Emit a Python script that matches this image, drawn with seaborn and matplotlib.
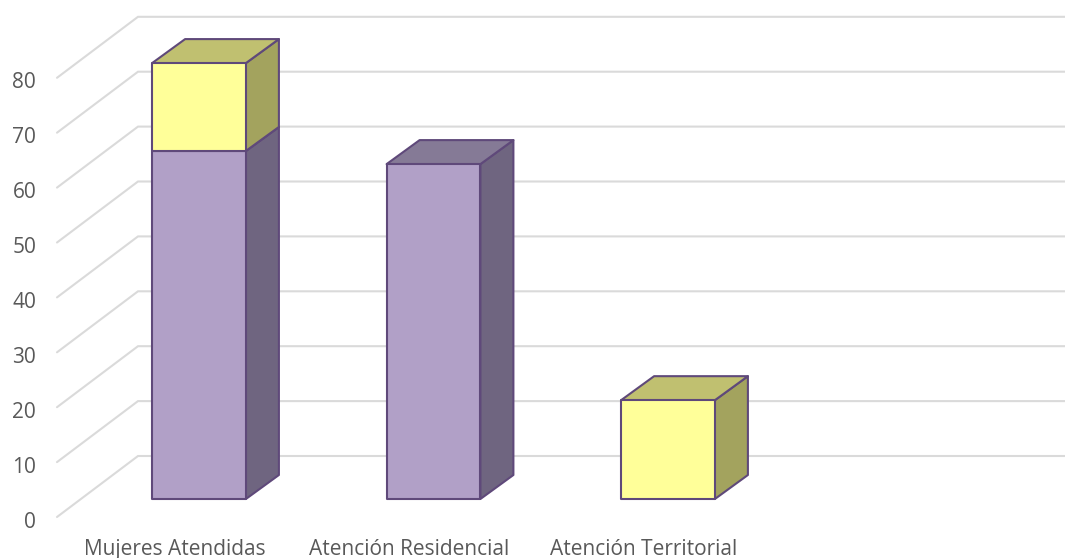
import matplotlib
matplotlib.use("Agg")
import matplotlib.pyplot as plt
from matplotlib.patches import Polygon
from matplotlib.transforms import Affine2D
import numpy as np
import pandas as pd
import seaborn as sns

categories = ["Mujeres Atendidas", "Atención Residencial", "Atención Territorial"]
purple_values = [63.4, 61.0, np.nan]
yellow_values = [16.0, np.nan, 18.0]
y_ticks = [0, 10, 20, 30, 40, 50, 60, 70, 80]

W, H = 1065, 558
PX_X = 234.5      # pixels per category
PX_Y = 5.49       # pixels per unit
LEFT, BOTTOM = 57, 517
CAT0 = 175

sns.set_theme(style="white")
plt.rcParams["font.family"] = ["Open Sans", "DejaVu Sans"]

fig = plt.figure(figsize=(W / 100, H / 100), dpi=100)
ax = fig.add_axes([LEFT / W, (H - BOTTOM) / H, (W - LEFT) / W, BOTTOM / H])

base = np.nan_to_num(purple_values)
df = pd.DataFrame({"cat": categories, "purple": purple_values, "yellow": yellow_values})

EDGE = "#5F497A"
LW = 1.5
FRONT_DX, FRONT_DY = 24 / PX_X, 18 / PX_Y
DEPTH_DX, DEPTH_DY = 33 / PX_X, 24 / PX_Y
BACK_DX, BACK_DY = 81 / PX_X, 61 / PX_Y
shift = Affine2D().translate(FRONT_DX * PX_X, FRONT_DY * PX_Y)


def draw_layer(col, bottoms, front, side, top, z):
    before = len(ax.patches)
    sns.barplot(data=df, x="cat", y=col, order=categories, color=front, saturation=1,
                width=0.4, edgecolor=EDGE, linewidth=LW, ax=ax, zorder=z + 0.2)
    bars = list(ax.patches[before:])
    for bar in bars:
        idx = int(round(bar.get_x() + bar.get_width() / 2))
        bar.set_y(bottoms[idx])
        x0, x1 = bar.get_x() + FRONT_DX, bar.get_x() + bar.get_width() + FRONT_DX
        y0, y1 = bar.get_y() + FRONT_DY, bar.get_y() + bar.get_height() + FRONT_DY
        bar.set_transform(ax.transData + shift)
        bar.set_joinstyle("round")
        ax.add_patch(Polygon([(x1, y0), (x1 + DEPTH_DX, y0 + DEPTH_DY), (x1 + DEPTH_DX, y1 + DEPTH_DY), (x1, y1)],
                             closed=True, facecolor=side, edgecolor=EDGE, linewidth=LW, zorder=z, joinstyle="round"))
        ax.add_patch(Polygon([(x0, y1), (x1, y1), (x1 + DEPTH_DX, y1 + DEPTH_DY), (x0 + DEPTH_DX, y1 + DEPTH_DY)],
                             closed=True, facecolor=top, edgecolor=EDGE, linewidth=LW, zorder=z + 0.1, joinstyle="round"))


draw_layer("purple", [0, 0, 0], "#B1A0C7", "#6F6580", "#857A96", 3)
draw_layer("yellow", base, "#FFFF99", "#A3A35E", "#C0C070", 4)

x_left = (LEFT - CAT0) / PX_X
x_right = (W - CAT0) / PX_X
ax.set_xlim(x_left, x_right)
ax.set_ylim(0, BOTTOM / PX_Y)

for v in y_ticks:
    ax.plot([x_left, x_left + BACK_DX, x_right], [v, v + BACK_DY, v + BACK_DY],
            color="#DADADA", lw=1.5, zorder=1, clip_on=False, solid_joinstyle="miter")

ax.set_yticks(y_ticks)
ax.set_xticks(range(len(categories)))
ax.set_xticklabels(categories)
ax.set_xlabel("")
ax.set_ylabel("")
ax.tick_params(axis="both", length=0, labelcolor="#595959", labelsize=15)
ax.tick_params(axis="y", pad=15)
ax.tick_params(axis="x", pad=15.5)
for label in ax.get_yticklabels():
    label.set_transform(label.get_transform() + Affine2D().translate(0, -2.5))
sns.despine(ax=ax, left=True, bottom=True)
ax.patch.set_alpha(0)

fig.savefig("out.png", dpi=100, facecolor="white")
